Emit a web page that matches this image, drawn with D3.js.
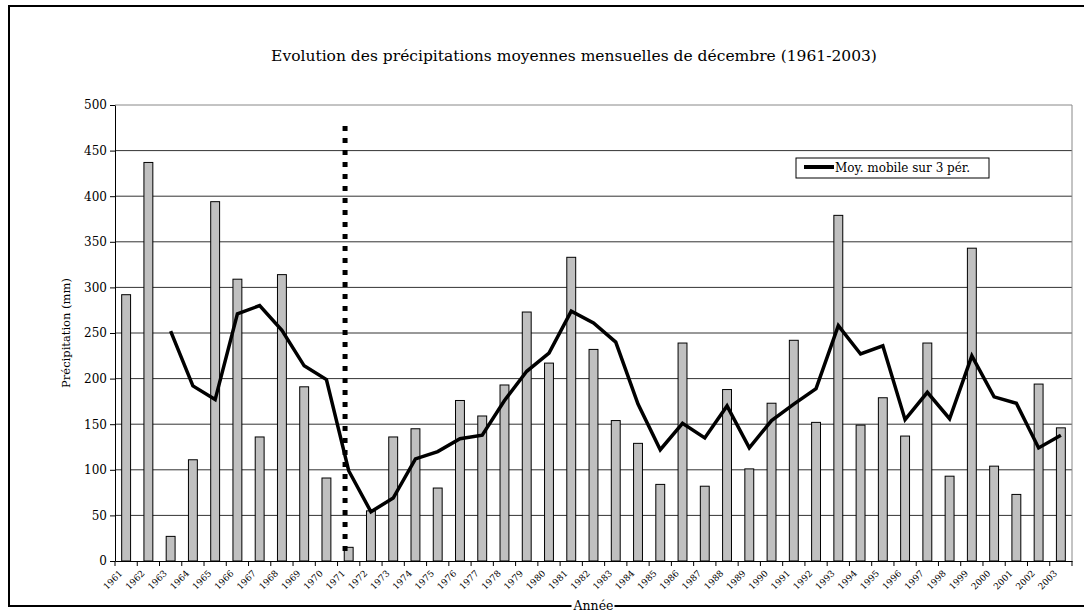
<!DOCTYPE html>
<html>
<head>
<meta charset="utf-8">
<script src="https://cdn.jsdelivr.net/npm/d3@7/dist/d3.min.js"></script>
<style>
	body {margin: 0; background: #fff}
	svg {display: block; font-family: "DejaVu Serif", serif}
</style>
</head>
<body>
<svg width="1084" height="614"></svg>
<script>
'use strict';
// data
let aYears = ["1961","1962","1963","1964","1965","1966","1967","1968","1969","1970",
	"1971","1972","1973","1974","1975","1976","1977","1978","1979","1980",
	"1981","1982","1983","1984","1985","1986","1987","1988","1989","1990",
	"1991","1992","1993","1994","1995","1996","1997","1998","1999","2000",
	"2001","2002","2003"]
let aPrecip = [292, 437, 27, 111, 394, 309, 136, 314, 191, 91,
	15, 55, 136, 145, 80, 176, 159, 193, 273, 217,
	333, 232, 154, 129, 84, 239, 82, 188, 101, 173,
	242, 152, 379, 149, 179, 137, 239, 93, 343, 104,
	73, 194, 146]
// moving average line, starts at 1963
let aAvgYears = aYears.slice(2)
let aAvg = [252, 192, 177, 271, 280, 253, 214, 199, 99,
	54, 69, 112, 120, 134, 138, 176, 208, 228, 274,
	261, 240, 172, 122, 151, 135, 170, 124, 154, 172,
	189, 258, 227, 236, 155, 185, 156, 225, 180, 173,
	124, 138]
let aYTicks = [0, 50, 100, 150, 200, 250, 300, 350, 400, 450, 500]
let sBreakYear = "1971"
let dBreakTop = 477

let eSvg = d3.select("svg"),
	dWidth = +eSvg.attr("width"),
	dHeight = +eSvg.attr("height")

let m = {top: 105, right: 12, bottom: 53, left: 115}
let dPlotW = dWidth - m.left - m.right,
	dPlotH = dHeight - m.top - m.bottom

// outer chart frame (right side runs off the picture)
eSvg.append("rect")
	.attr("x", 9).attr("y", 6)
	.attr("width", 1100).attr("height", 600)
	.attr("fill", "none").attr("stroke", "#000").attr("stroke-width", 2)

eSvg.append("text")
	.attr("x", 574).attr("y", 61)
	.attr("text-anchor", "middle")
	.attr("font-size", 15.5)
	.text("Evolution des précipitations moyennes mensuelles de décembre (1961-2003)")

let g = eSvg.append("g").attr("transform", `translate(${m.left},${m.top})`)

let x = d3.scaleBand().domain(aYears).range([0, dPlotW])
let xBar = d3.scaleBand().domain(aYears).range([0, dPlotW]).paddingInner(0.6).paddingOuter(0.3)
let y = d3.scaleLinear().domain([0, 500]).range([dPlotH, 0])

// gridlines
g.append("g").selectAll("line")
	.data(aYTicks.slice(1))
	.enter().append("line")
	.attr("x1", 0).attr("x2", dPlotW)
	.attr("y1", d => {return y(d)}).attr("y2", d => {return y(d)})
	.attr("stroke", d => {return d === 500 ? "#888" : "#333"})
	.attr("stroke-width", 1)

g.append("line")
	.attr("x1", dPlotW).attr("x2", dPlotW)
	.attr("y1", 0).attr("y2", dPlotH)
	.attr("stroke", "#888")

// bars
g.append("g").selectAll("rect")
	.data(aPrecip)
	.enter().append("rect")
	.attr("x", (d, i) => {return xBar(aYears[i])})
	.attr("width", xBar.bandwidth())
	.attr("y", d => {return y(d)})
	.attr("height", d => {return dPlotH - y(d)})
	.attr("fill", "#c0c0c0")
	.attr("stroke", "#000").attr("stroke-width", 1)

// axes
let yAxis = g.append("g")
	.call(d3.axisLeft(y).tickValues(aYTicks).tickSize(5).tickSizeOuter(0))
yAxis.attr("font-family", null)
yAxis.selectAll("text").attr("font-size", 12).attr("fill", "#000")
yAxis.select(".domain").attr("stroke", "#000")

let xAxis = g.append("g").attr("transform", `translate(0,${dPlotH})`)
	.call(d3.axisBottom(x).tickSize(0).tickSizeOuter(0).tickFormat(""))
xAxis.attr("font-family", null)
xAxis.select(".domain").attr("stroke", "#000")
// tick marks between categories
xAxis.selectAll(".sep")
	.data(aYears.concat(["end"]))
	.enter().append("line")
	.attr("x1", (d, i) => {return i * x.step()})
	.attr("x2", (d, i) => {return i * x.step()})
	.attr("y1", 0).attr("y2", 5)
	.attr("stroke", "#000")
xAxis.selectAll(".lbl")
	.data(aYears)
	.enter().append("text")
	.attr("transform", d => {return `translate(${x(d) + x.bandwidth() / 2 - 3},${13}) rotate(-45)`})
	.attr("text-anchor", "end")
	.attr("font-size", 9)
	.attr("fill", "#000")
	.text(d => {return d})

// moving average
let line = d3.line()
	.x((d, i) => {return x(aAvgYears[i]) + x.bandwidth() / 2})
	.y(d => {return y(d)})
g.append("path")
	.datum(aAvg)
	.attr("d", line)
	.attr("fill", "none")
	.attr("stroke", "#000")
	.attr("stroke-width", 3.5)
	.attr("stroke-linejoin", "miter")

// dotted break line
g.append("line")
	.attr("x1", x(sBreakYear) + 7.5).attr("x2", x(sBreakYear) + 7.5)
	.attr("y1", y(dBreakTop)).attr("y2", dPlotH - 3)
	.attr("stroke", "#000")
	.attr("stroke-width", 5)
	.attr("stroke-dasharray", "5,7")

// axis titles
eSvg.append("text")
	.attr("transform", `translate(70,${m.top + dPlotH / 2}) rotate(-90)`)
	.attr("text-anchor", "middle")
	.attr("font-size", 11.5)
	.text("Précipitation (mm)")

// x title sits on the frame line, masked behind
let eXT = eSvg.append("g")
let eXTBg = eXT.append("rect").attr("fill", "#fff")
let eXTitle = eXT.append("text")
	.attr("x", m.left + dPlotW / 2).attr("y", 610)
	.attr("text-anchor", "middle")
	.attr("font-size", 12.5)
	.text("Année")
let bb = eXTitle.node().getBBox()
eXTBg.attr("x", bb.x - 1).attr("y", bb.y)
	.attr("width", bb.width + 2).attr("height", bb.height)

// legend
let eLeg = eSvg.append("g").attr("transform", "translate(796,158)")
eLeg.append("rect")
	.attr("width", 193).attr("height", 20)
	.attr("fill", "#fff").attr("stroke", "#000")
eLeg.append("line")
	.attr("x1", 8).attr("x2", 38).attr("y1", 9).attr("y2", 9)
	.attr("stroke", "#000").attr("stroke-width", 4)
eLeg.append("text")
	.attr("x", 39).attr("y", 14)
	.attr("font-size", 12)
	.text("Moy. mobile sur 3 pér.")
</script>
</body>
</html>
